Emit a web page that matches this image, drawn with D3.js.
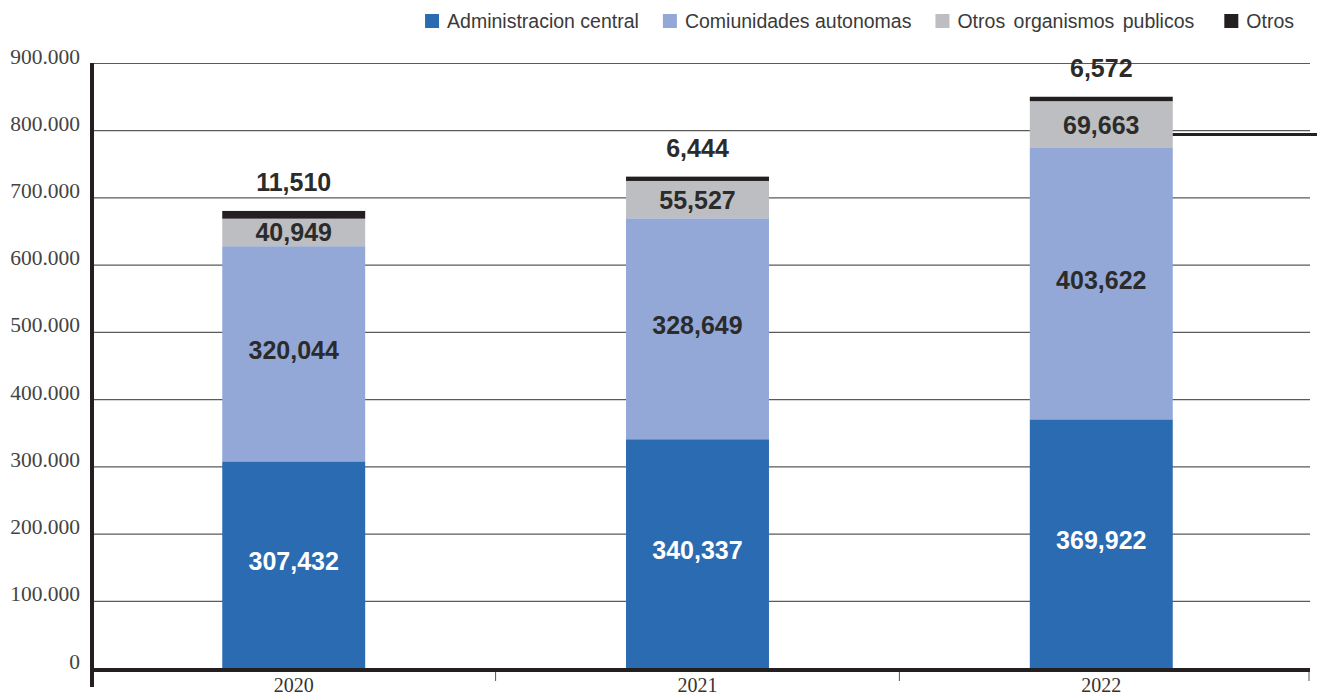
<!DOCTYPE html>
<html>
<head>
<meta charset="utf-8">
<script src="https://cdn.jsdelivr.net/npm/d3@7"></script>
<style>
  html, body { margin: 0; padding: 0; background: #fff; }
  svg { display: block; }
</style>
</head>
<body>
<svg id="chart" width="1317" height="696"></svg>
<script>
// Years shown on the x axis
const years = ["2020", "2021", "2022"];

// One array per series, in stacking order (bottom to top)
const administracionCentral = [307432, 340337, 369922];
const comunidadesAutonomas  = [320044, 328649, 403622];
const otrosOrganismos       = [40949, 55527, 69663];
const otros                 = [11510, 6444, 6572];

const seriesNames = ["Administracion central", "Comiunidades autonomas", "Otros organismos publicos", "Otros"];
const seriesColors = ["#2b6bb2", "#93a8d7", "#bdbec1", "#231f20"];
const labelColors  = ["#ffffff", "#2b2b2b", "#2b2b2b", "#2b2b2b"];

const yTicks = [0, 100000, 200000, 300000, 400000, 500000, 600000, 700000, 800000, 900000];
const yTickLabels = ["0", "100.000", "200.000", "300.000", "400.000", "500.000", "600.000", "700.000", "800.000", "900.000"];

const seriesValues = [administracionCentral, comunidadesAutonomas, otrosOrganismos, otros];
const rows = years.map((yr, i) => {
  const r = { year: yr };
  seriesNames.forEach((s, k) => r[s] = seriesValues[k][i]);
  return r;
});

const svg = d3.select("#chart");
const W = 1317, H = 696;
const plotLeft = 92, plotRight = 1310, plotTop = 63, plotBottom = 668;

const x = d3.scaleBand().domain(years).range([89, 1306]).paddingInner(0.646).paddingOuter(0.33);
const y = d3.scaleLinear().domain([0, 900000]).range([plotBottom, plotTop]);

const stack = d3.stack().keys(seriesNames)(rows);
const fmt = d3.format(",");

// Horizontal gridlines
svg.append("g").selectAll("line").data(yTicks.slice(1)).join("line")
  .attr("x1", plotLeft).attr("x2", plotRight)
  .attr("y1", d => y(d) + 0.5).attr("y2", d => y(d) + 0.5)
  .attr("stroke", "#5a5a5a").attr("stroke-width", 1.2);

// Y tick labels
const yAxis = d3.axisLeft(y).tickValues(yTicks).tickSize(0).tickPadding(12)
  .tickFormat((d, i) => yTickLabels[i]);
const gy = svg.append("g").attr("transform", `translate(${plotLeft},0)`).call(yAxis);
gy.select(".domain").remove();
gy.selectAll("text").attr("font-family", "'Liberation Serif', 'Times New Roman', serif")
  .attr("font-size", 21.5).attr("fill", "#444").attr("dy", "0em");

// Stacked bars
const layers = svg.append("g").selectAll("g").data(stack).join("g")
  .attr("fill", (d, i) => seriesColors[i]);
layers.selectAll("rect").data(d => d).join("rect")
  .attr("x", d => x(d.data.year))
  .attr("width", x.bandwidth())
  .attr("y", d => y(d[1]))
  .attr("height", d => y(d[0]) - y(d[1]));

// Short dark rule at the right of the last bar, level with 800.000
const lastBarEnd = x(years[years.length - 1]) + x.bandwidth();
svg.append("line")
  .attr("x1", lastBarEnd).attr("x2", W)
  .attr("y1", y(793500)).attr("y2", y(793500))
  .attr("stroke", "#222").attr("stroke-width", 3);

// Value labels inside the lower three segments
const valueFont = "'Liberation Sans', Arial, sans-serif";
stack.slice(0, 3).forEach((layer, k) => {
  svg.append("g").selectAll("text").data(layer).join("text")
    .attr("x", d => x(d.data.year) + x.bandwidth() / 2)
    .attr("y", d => (y(d[0]) + y(d[1])) / 2)
    .attr("dy", k < 2 ? "0.2em" : "0.36em")
    .attr("text-anchor", "middle")
    .attr("font-family", valueFont).attr("font-weight", "bold").attr("font-size", 25)
    .attr("fill", labelColors[k])
    .text(d => fmt(d[1] - d[0]));
});

// Labels for the thin top segment sit above the bar
const topLayer = stack[3];
svg.append("g").selectAll("text").data(topLayer).join("text")
  .attr("x", d => x(d.data.year) + x.bandwidth() / 2)
  .attr("y", d => y(d[1]) - 20)
  .attr("text-anchor", "middle")
  .attr("font-family", valueFont).attr("font-weight", "bold").attr("font-size", 25)
  .attr("fill", labelColors[3])
  .text(d => fmt(d[1] - d[0]));

// Axis lines
const axisColor = "#231f20";
svg.append("line")
  .attr("x1", plotLeft).attr("x2", plotLeft)
  .attr("y1", plotTop).attr("y2", plotBottom + 19)
  .attr("stroke", axisColor).attr("stroke-width", 4);
svg.append("line")
  .attr("x1", plotLeft).attr("x2", plotRight)
  .attr("y1", plotBottom + 2).attr("y2", plotBottom + 2)
  .attr("stroke", axisColor).attr("stroke-width", 4);

// Category separators under the x axis
const gapHalf = (x.step() - x.bandwidth()) / 2;
const sepX = years.slice(1).map(yr => x(yr) - gapHalf).concat([plotRight - 1]);
svg.append("g").selectAll("line").data(sepX).join("line")
  .attr("x1", d => d).attr("x2", d => d)
  .attr("y1", plotBottom + 4).attr("y2", plotBottom + 13)
  .attr("stroke", "#555").attr("stroke-width", 1);

// X category labels
svg.append("g").selectAll("text").data(years).join("text")
  .attr("x", d => x(d) + x.bandwidth() / 2)
  .attr("y", plotBottom + 24)
  .attr("text-anchor", "middle")
  .attr("font-family", "'Liberation Serif', 'Times New Roman', serif")
  .attr("font-size", 20).attr("fill", "#333")
  .text(d => d);

// Legend, laid out right to left so it ends near the right edge
const legend = svg.append("g");
const legendFont = "'Liberation Sans', Arial, sans-serif";
let cursor = 1294;
const legendItems = seriesNames.map((s, i) => ({ s, i })).reverse();
legendItems.forEach(({ s, i }) => {
  const t = legend.append("text")
    .attr("y", 28)
    .attr("font-family", legendFont).attr("font-size", 19.5)
    .attr("fill", "#3a3a3a").attr("word-spacing", i === 2 ? 3 : 0)
    .text(s);
  const w = t.node().getComputedTextLength() + (i === 2 ? 6 : 0);
  t.attr("x", cursor - w);
  legend.append("rect")
    .attr("x", cursor - w - 22).attr("y", 14)
    .attr("width", 14).attr("height", 14)
    .attr("fill", seriesColors[i]);
  cursor = cursor - w - 22 - 24;
});
</script>
</body>
</html>
